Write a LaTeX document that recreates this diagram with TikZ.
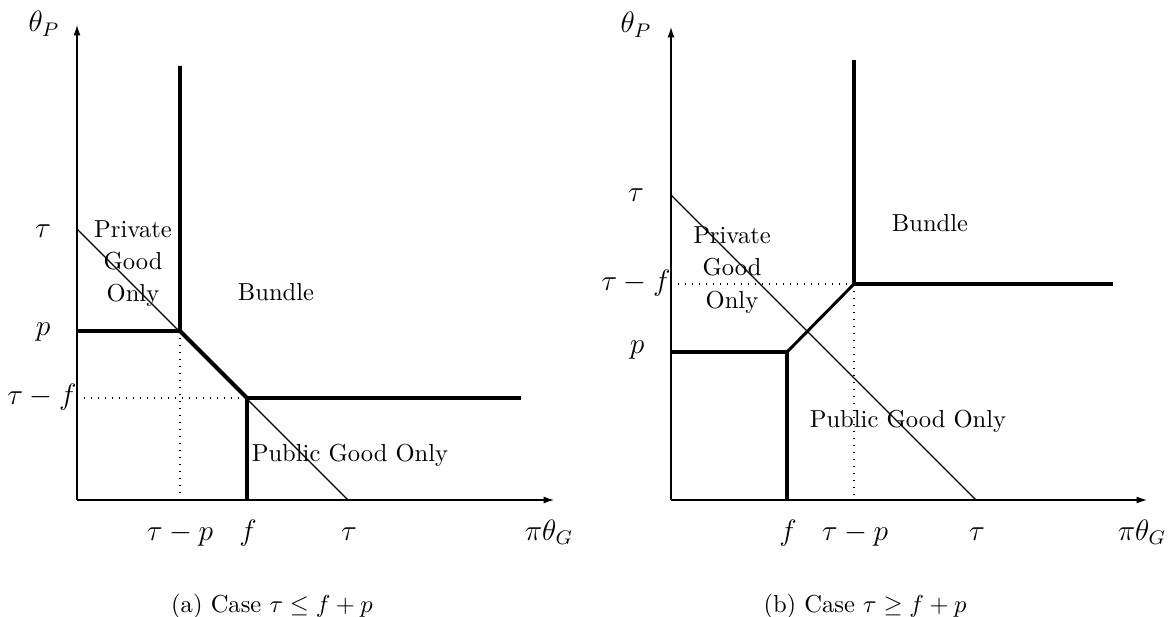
\documentclass[tikz,border=0pt]{standalone}
\usetikzlibrary{arrows.meta}
\begin{document}
\begin{tikzpicture}[x=0.4072pt,y=-0.4072pt,
  axis/.style={line width=0.5pt,-{Latex[length=4.2pt,width=2.8pt]}},
  bound/.style={line width=1.6pt},
  guide/.style={line width=0.5pt},
  aux/.style={line width=0.45pt,dash pattern=on 0.45pt off 2.4pt},
  mlab/.style={font=\large,anchor=base,inner sep=0pt},
  tlab/.style={font=\normalsize,anchor=base,inner sep=0pt}]
\useasboundingbox (0,0) rectangle (1172,617);
% ---------- left panel ----------
\coordinate (Ao) at (77,500);
\coordinate (Aytip) at (77,25);
\coordinate (Axtip) at (554,500);
\coordinate (Atau) at (77,229);
\coordinate (Ataux) at (348,500);
\coordinate (Ap) at (77,331);
\coordinate (Ac1) at (180,331);
\coordinate (Atop) at (180,66);
\coordinate (Ac2) at (247,398);
\coordinate (Aright) at (521,398);
\coordinate (Af) at (247,500);
\coordinate (Atf) at (77,398);
\coordinate (Atp) at (180,500);
\draw[aux] (Atf) -- (Ac2);
\draw[aux] (Ac1) -- (Atp);
\draw[guide] (Atau) -- (Ataux);
\draw[axis] (Ao) -- (Aytip);
\draw[axis] (Ao) -- (Axtip);
\draw[bound] (Atop) -- (Ac1) -- (Ac2) -- (Af);
\draw[bound] (Ap) -- (Ac1);
\draw[bound] (Ac2) -- (Aright);
\node[mlab] (AthP) at (44,32) {$\theta_P$};
\node[mlab] (Aytau) at (43,237) {$\tau$};
\node[mlab] (Ayp) at (43,335) {$p$};
\node[mlab] (Aytf) at (42,404) {$\tau-f$};
\node[mlab] (Axtp) at (180,540) {$\tau-p$};
\node[mlab] (Axf) at (248,540) {$f$};
\node[mlab] (Axtau) at (349,540) {$\tau$};
\node[mlab] (AxG) at (549,540) {$\pi\theta_G$};
\node[tlab] (Apriv1) at (133,237) {Private};
\node[tlab] (Apriv2) at (133,269) {Good};
\node[tlab] (Apriv3) at (133,301) {Only};
\node[tlab] (Abund) at (276,300) {Bundle};
\node[tlab] (Apub) at (350,461) {Public Good Only};
\node[tlab] (Acap) at (272,612) {(a) Case $\tau\leq f+p$};
% ---------- right panel ----------
\coordinate (Bo) at (671,500);
\coordinate (Bytip) at (671,27);
\coordinate (Bxtip) at (1147,500);
\coordinate (Btau) at (671,195);
\coordinate (Btaux) at (976,500);
\coordinate (Bp) at (671,352);
\coordinate (Bc1) at (787,352);
\coordinate (Bf) at (787,500);
\coordinate (Bc2) at (854,284);
\coordinate (Btop) at (854,60);
\coordinate (Bright) at (1113,284);
\coordinate (Btf) at (671,284);
\coordinate (Btp) at (854,500);
\draw[aux] (Btf) -- (Bc2);
\draw[aux] (Bc2) -- (Btp);
\draw[guide] (Btau) -- (Btaux);
\draw[axis] (Bo) -- (Bytip);
\draw[axis] (Bo) -- (Bxtip);
\draw[bound] (Bp) -- (Bc1) -- (Bf);
\draw[line width=1.2pt] (Bc1) -- (Bc2);
\draw[bound] (Btop) -- (Bc2) -- (Bright);
\node[mlab] (BthP) at (636,33) {$\theta_P$};
\node[mlab] (Bytau) at (636,201) {$\tau$};
\node[mlab] (Byp) at (637,353) {$p$};
\node[mlab] (Bytf) at (636,290) {$\tau-f$};
\node[mlab] (Bxf) at (788,540) {$f$};
\node[mlab] (Bxtp) at (855,540) {$\tau-p$};
\node[mlab] (Bxtau) at (977,540) {$\tau$};
\node[mlab] (BxG) at (1142,540) {$\pi\theta_G$};
\node[tlab] (Bpriv1) at (732,243) {Private};
\node[tlab] (Bpriv2) at (732,275) {Good};
\node[tlab] (Bpriv3) at (732,308) {Only};
\node[tlab] (Bbund) at (930,231) {Bundle};
\node[tlab] (Bpub) at (908,427) {Public Good Only};
\node[tlab] (Bcap) at (865,612) {(b) Case $\tau\geq f+p$};
\end{tikzpicture}
\end{document}
